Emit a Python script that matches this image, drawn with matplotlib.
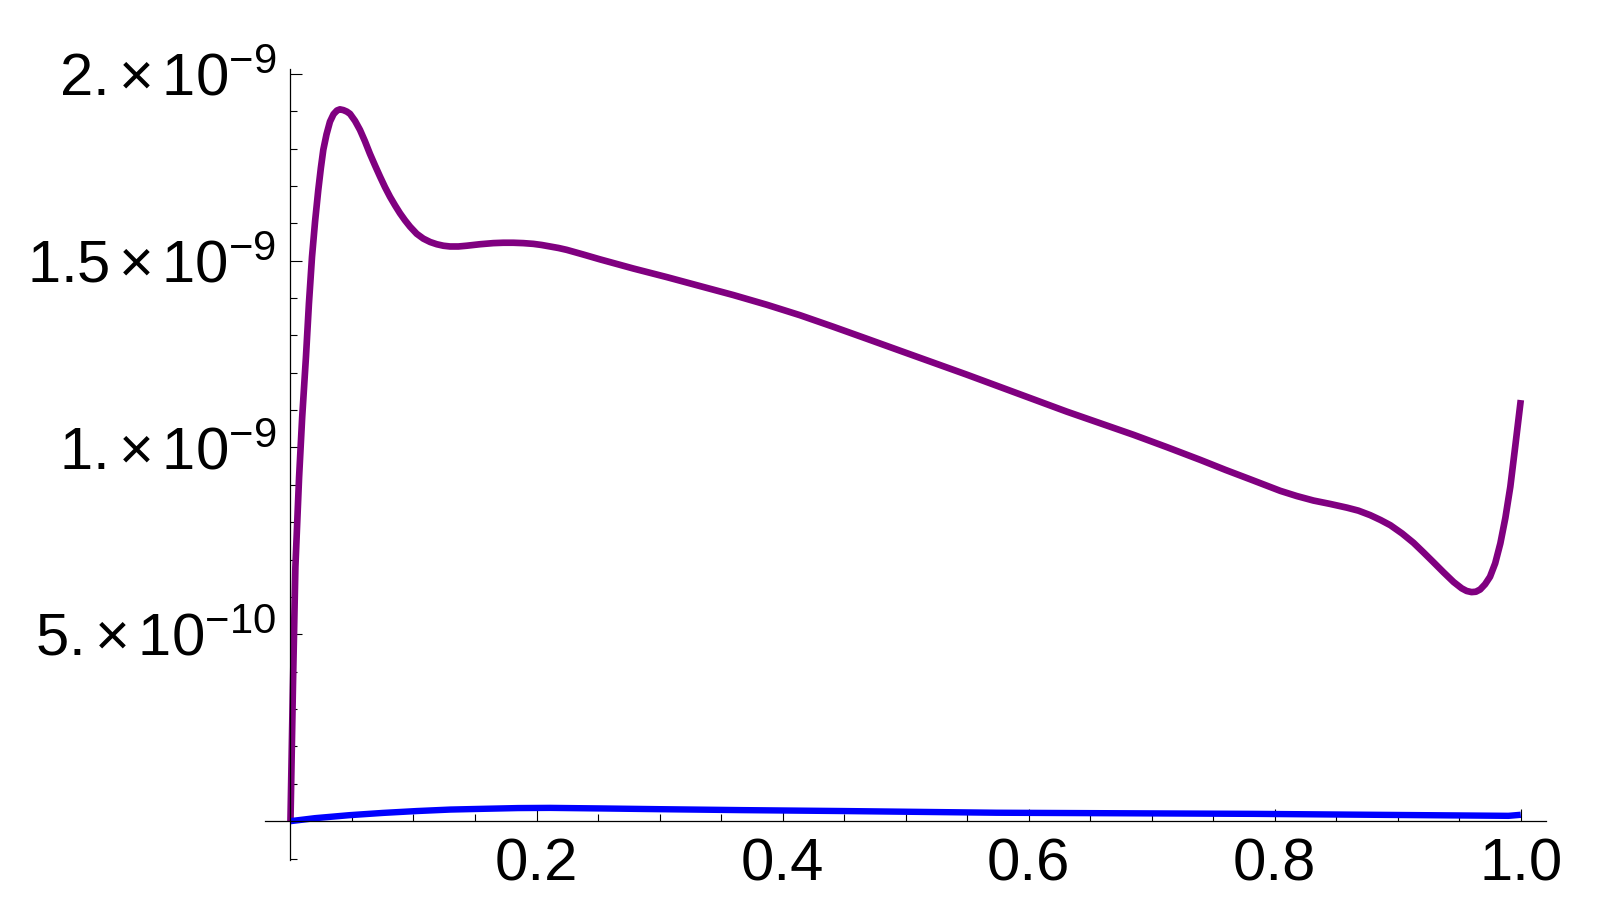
import numpy as np
import matplotlib
matplotlib.use("Agg")
import matplotlib.pyplot as plt
from matplotlib.ticker import FixedLocator

plt.rcParams['font.family'] = ['Liberation Sans', 'DejaVu Sans']
plt.rcParams['mathtext.fontset'] = 'custom'
plt.rcParams['mathtext.rm'] = 'Liberation Sans'
plt.rcParams['mathtext.it'] = 'Liberation Sans:italic'
plt.rcParams['mathtext.bf'] = 'Liberation Sans:bold'

# purple series (values in units of 1e-9)
purple_x = [0.0, 0.002, 0.004, 0.007, 0.0095, 0.0126, 0.015, 0.0175, 0.020, 0.0226,
            0.0247, 0.0267, 0.0293, 0.0321, 0.035, 0.0378, 0.0402, 0.043, 0.0458, 0.0484,
            0.0525, 0.0565, 0.0605, 0.0646, 0.0687, 0.0728, 0.0768, 0.0809, 0.085, 0.089,
            0.0931, 0.0972, 0.1026, 0.108, 0.1135, 0.1189, 0.1243, 0.1297, 0.1365, 0.1432,
            0.154, 0.1649, 0.173, 0.1811, 0.1892, 0.1974, 0.2042, 0.211, 0.2178, 0.2245,
            0.238, 0.2516, 0.2787, 0.3059, 0.3329, 0.36, 0.3872, 0.4142, 0.4413, 0.4685,
            0.4955, 0.5226, 0.5497, 0.5768, 0.6039, 0.631, 0.6581, 0.6852, 0.7123, 0.7394,
            0.76, 0.78, 0.8045, 0.818, 0.8315, 0.845, 0.8587, 0.868, 0.8776, 0.886,
            0.894, 0.9035, 0.9128, 0.921, 0.929, 0.9372, 0.9454, 0.952, 0.956, 0.96,
            0.9635, 0.967, 0.971, 0.975, 0.9792, 0.9834, 0.9875, 0.9915, 0.9955, 1.0]
purple_y = [0.0, 0.36, 0.68, 0.92, 1.08, 1.243, 1.385, 1.51, 1.605, 1.689,
            1.748, 1.797, 1.838, 1.872, 1.892, 1.902, 1.905, 1.903, 1.899, 1.893,
            1.874, 1.850, 1.820, 1.786, 1.755, 1.725, 1.697, 1.671, 1.648, 1.627,
            1.608, 1.591, 1.572, 1.559, 1.550, 1.544, 1.540, 1.538, 1.538, 1.540,
            1.544, 1.547, 1.548, 1.548, 1.547, 1.545, 1.542, 1.538, 1.534, 1.529,
            1.5165, 1.5035, 1.479, 1.456, 1.432, 1.408, 1.382, 1.354, 1.323, 1.291,
            1.259, 1.227, 1.195, 1.162, 1.129, 1.096, 1.065, 1.034, 1.001, 0.967,
            0.940, 0.915, 0.884, 0.870, 0.858, 0.849, 0.839, 0.831, 0.819, 0.806,
            0.792, 0.770, 0.745, 0.719, 0.693, 0.666, 0.640, 0.623, 0.616, 0.613,
            0.614, 0.620, 0.634, 0.654, 0.690, 0.7435, 0.812, 0.895, 1.003, 1.127]

# blue series (values in units of 1e-9)
blue_x = [0.0, 0.02, 0.048, 0.075, 0.1026, 0.13, 0.157, 0.185, 0.211, 0.252,
          0.30, 0.367, 0.45, 0.574, 0.68, 0.782, 0.88, 0.96, 0.99, 1.0]
blue_y = [0.0, 0.008, 0.016, 0.022, 0.027, 0.031, 0.033, 0.035, 0.0355, 0.034,
          0.032, 0.0295, 0.027, 0.0225, 0.021, 0.0195, 0.017, 0.015, 0.0142, 0.017]

SCALE = 1e-9
x_ticks = [0.2, 0.4, 0.6, 0.8, 1.0]
x_tick_labels = ["0.2", "0.4", "0.6", "0.8", "1.0"]
y_ticks = [0.5, 1.0, 1.5, 2.0]
y_tick_labels = [r"$5.{\times}\,10^{-10}$", r"$1.{\times}\,10^{-9}$",
                 r"$1.5\,{\times}\,10^{-9}$", r"$2.{\times}\,10^{-9}$"]

fig = plt.figure(figsize=(16.03, 9.21), dpi=100)
ax = fig.add_axes([265/1603, 1-860/921, (1546-265)/1603, (860-69)/921])

ax.plot(purple_x, np.array(purple_y) * SCALE, color='#800080', lw=4.8,
        solid_capstyle='butt', solid_joinstyle='round')
ax.plot(blue_x, np.array(blue_y) * SCALE, color='#0000FF', lw=4.6,
        solid_capstyle='butt', solid_joinstyle='round')

ax.set_xlim(-0.0207, 1.0205)
ax.set_ylim(-0.104e-9, 2.013e-9)

for s in ['top', 'right']:
    ax.spines[s].set_visible(False)
ax.spines['left'].set_position(('data', 0))
ax.spines['bottom'].set_position(('data', 0))
for s in ['left', 'bottom']:
    ax.spines[s].set_linewidth(0.9)
    ax.spines[s].set_color('black')

ax.set_xticks(x_ticks, x_tick_labels)
ax.set_yticks([v * SCALE for v in y_ticks], y_tick_labels)
ax.xaxis.set_minor_locator(FixedLocator([i * 0.05 for i in range(1, 21)]))
ax.yaxis.set_minor_locator(FixedLocator([i * 0.1e-9 for i in range(-1, 21)]))

ax.tick_params(which='both', direction='in', width=0.8, color='black')
ax.tick_params(which='major', length=8.3)
ax.tick_params(which='minor', length=5.0)
ax.tick_params(axis='x', which='major', labelsize=43, pad=12)
ax.tick_params(axis='y', which='major', labelsize=43, pad=10)

fig.savefig('out.png', dpi=100, facecolor='white')
